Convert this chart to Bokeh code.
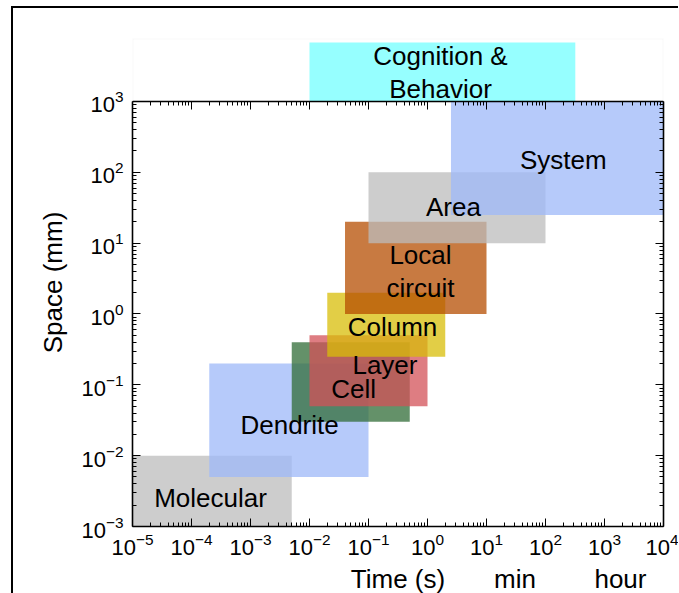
from bokeh.plotting import figure
from bokeh.models import LogAxis, FixedTicker, Range1d, BoxAnnotation, ColumnDataSource
from bokeh.core.properties import value
from bokeh.embed import file_html
from bokeh.resources import INLINE

# ---- data ----
scales = ["Molecular", "Dendrite", "Cell", "Layer", "Column", "Local circuit", "Area", "System", "Cognition & Behavior"]
t_min = [1e-5, 2e-4, 5e-3, 1e-2, 2e-2, 4e-2, 1e-1, 2.5, 1e-2]
t_max = [5e-3, 1e-1, 5e-1, 1.0, 2.0, 10.0, 100.0, 1e4, 320.0]
s_min = [1e-3, 5e-3, 3e-2, 5e-2, 2.5e-1, 1.0, 10.0, 25.0, 1e3]
s_max = [1e-2, 2e-1, 4e-1, 5e-1, 2.0, 20.0, 100.0, 1e3, 6800.0]
colors = ["#bcbcbc", "#9eb8f8", "#306c37", "#d35258", "#d8be08", "#b64e02", "#bcbcbc", "#9eb8f8", "#73ffff"]

label_text = ["Molecular", "Dendrite", "Cell", "Layer", "Column", "Local\ncircuit", "Area", "System", "Cognition &\nBehavior"]
label_x = [2.1e-4, 4.6e-3, 0.056, 0.19, 0.255, 0.76, 2.75, 200.0, 1.66]
label_y = [2.5e-3, 0.0275, 0.086, 0.19, 0.645, 4.0, 32.0, 150.0, 2560.0]

x_ticks = [1e-5, 1e-4, 1e-3, 1e-2, 1e-1, 1e0, 1e1, 1e2, 1e3, 1e4]
y_ticks = [1e-3, 1e-2, 1e-1, 1e0, 1e1, 1e2, 1e3]

# x-axis title and time-unit words below the tick labels
unit_text = ["Time (s)", "min", "hour"]
unit_x = [0.316, 30.4, 1866.0]

FONT = "Liberation Sans"

x_minor = [m * t for t in x_ticks[:-1] for m in range(2, 10)]
y_minor = [m * t for t in y_ticks[:-1] for m in range(2, 10)]

p = figure(frame_width=531, frame_height=488, x_axis_type="log", y_axis_type="log",
           x_range=Range1d(1e-5, 1e4), y_range=Range1d(1e-3, 7745),
           output_backend="svg", toolbar_location=None,
           min_border_left=119, min_border_right=15, min_border_top=30, min_border_bottom=0)
p.outline_line_color = None
p.xgrid.visible = False
p.ygrid.visible = False
p.styles = {"border-left": "2px solid black", "border-top": "2px solid black",
            "margin-left": "11px", "margin-top": "6px"}

src = ColumnDataSource(dict(left=t_min, right=t_max, bottom=s_min, top=s_max, color=colors))
p.quad(left="left", right="right", bottom="bottom", top="top", fill_color="color",
       fill_alpha=0.75, line_color=None, source=src)

p.add_layout(BoxAnnotation(bottom=1e3, fill_alpha=0, line_color="#e8e8e8", line_width=2, level="underlay"))

lsrc = ColumnDataSource(dict(x=label_x, y=label_y, text=label_text))
p.text(x="x", y="y", text="text", source=lsrc, text_align="center", text_baseline="middle",
       text_font=value(FONT), text_font_size="26px", text_color="black", text_line_height=1.1)

def style_axis(ax, labels=True):
    ax.axis_line_width = 1.6
    ax.axis_line_color = "black"
    ax.major_tick_in = 8
    ax.major_tick_out = 0
    ax.minor_tick_in = 4
    ax.minor_tick_out = 0
    ax.major_tick_line_color = "black"
    ax.minor_tick_line_color = "black"
    if labels:
        ax.major_label_text_font = FONT
        ax.major_label_text_font_size = "22px"
        ax.major_label_text_color = "black"
    else:
        ax.major_label_text_font_size = "2px"
        ax.major_label_text_alpha = 0
        ax.major_label_standoff = 0

xt = FixedTicker(ticks=x_ticks, minor_ticks=x_minor)
yt = FixedTicker(ticks=y_ticks, minor_ticks=y_minor)

bx = p.xaxis[0]
bx.ticker = xt
style_axis(bx)
bx.major_label_standoff = 6

ly = p.yaxis[0]
ly.ticker = yt
ly.bounds = (1e-3, 1e3)
style_axis(ly)
ly.axis_label = "Space (mm)"
ly.axis_label_text_font = FONT
ly.axis_label_text_font_size = "26px"
ly.axis_label_text_font_style = "normal"
ly.axis_label_text_color = "black"
ly.major_label_standoff = 9
ly.axis_label_standoff = 10

ry = LogAxis(ticker=yt, bounds=(1e-3, 1e3))
style_axis(ry, labels=False)
p.add_layout(ry, "right")

tx = LogAxis(ticker=xt, fixed_location=1e3)
style_axis(tx, labels=False)
p.add_layout(tx, "above")

ux = LogAxis(ticker=FixedTicker(ticks=unit_x, minor_ticks=[]),
             major_label_overrides={xv: t for xv, t in zip(unit_x, unit_text)})
ux.axis_line_color = None
ux.major_tick_line_color = None
ux.minor_tick_line_color = None
ux.major_tick_in = 0
ux.major_tick_out = 0
ux.minor_tick_in = 0
ux.minor_tick_out = 0
ux.major_label_standoff = 6
ux.major_label_text_font = FONT
ux.major_label_text_font_size = "26px"
ux.major_label_text_color = "black"
p.add_layout(ux, "below")

open("out.html", "w").write(file_html(p, INLINE))
